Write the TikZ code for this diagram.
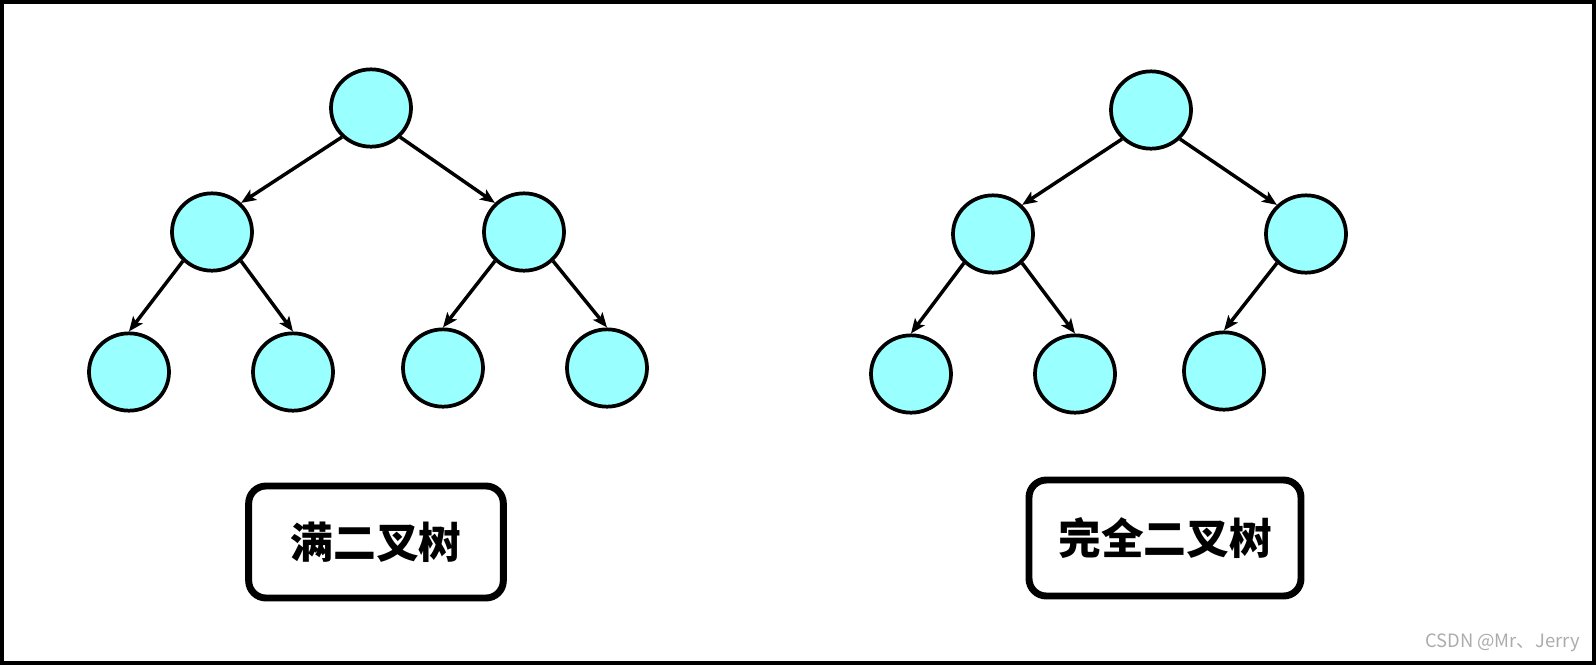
\documentclass[tikz,border=0pt]{standalone}
\usepackage{fontspec}
\newfontfamily\cjk{Noto Sans CJK SC}
\usepackage{tikz}
\usetikzlibrary{arrows.meta,shapes.geometric,positioning}
\usepackage{xcolor}
\definecolor{tcyan}{RGB}{153,255,255}
\definecolor{tmark}{RGB}{172,172,172}

\begin{document}
\begin{tikzpicture}[x=0.75pt,y=-0.75pt,>={Stealth[length=11pt,width=9pt,inset=2.5pt]},
  ball/.style={ellipse,draw,line width=2.8pt,fill=tcyan,minimum width=60pt,minimum height=58pt,inner sep=0pt},
  link/.style={->,line width=2.6pt},
  tag/.style={draw,line width=5.2pt,rounded corners=13pt,font=\cjk\bfseries\fontsize{32}{36}\selectfont,inner sep=0pt}]
  \useasboundingbox (0,0) rectangle (1596,665);
  % outer frame
  \draw[line width=3pt] (2,2) rectangle (1594,663);
  % full binary tree
  \node[ball] (fR) at (371,108) {};
  \node[ball] (fL) at (212,232) {};
  \node[ball] (fRr) at (524,232) {};
  \node[ball] (fLL) at (129,372) {};
  \node[ball] (fLR) at (293,372) {};
  \node[ball] (fRL) at (443,368) {};
  \node[ball] (fRR) at (607,368) {};
  \draw[link] (fR.-135)--(fL.45);
  \draw[link] (fR.-45)--(fRr.135);
  \draw[link] (fL.-135)--(fLL.90);
  \draw[link] (fL.-45)--(fLR.90);
  \draw[link] (fRr.-135)--(fRL.90);
  \draw[link] (fRr.-45)--(fRR.90);
  % complete binary tree
  \node[ball] (cR) at (1151,110) {};
  \node[ball] (cL) at (993,234) {};
  \node[ball] (cRr) at (1306,234) {};
  \node[ball] (cLL) at (911,374) {};
  \node[ball] (cLR) at (1075,374) {};
  \node[ball] (cRL) at (1224,371) {};
  \draw[link] (cR.-135)--(cL.45);
  \draw[link] (cR.-45)--(cRr.135);
  \draw[link] (cL.-135)--(cLL.90);
  \draw[link] (cL.-45)--(cLR.90);
  \draw[link] (cRr.-135)--(cRL.90);
  % labels
  \node[tag,minimum width=191pt,minimum height=84pt] (fullTag) at (376,542) {满二叉树};
  \node[tag,minimum width=204pt,minimum height=87pt] (compTag) at (1165,538) {完全二叉树};
  \node[tmark,font=\cjk\fontsize{13.8}{15}\selectfont,anchor=south east,inner sep=0pt] (mark) at (1580,652) {CSDN @Mr、Jerry};
\end{tikzpicture}
\end{document}
